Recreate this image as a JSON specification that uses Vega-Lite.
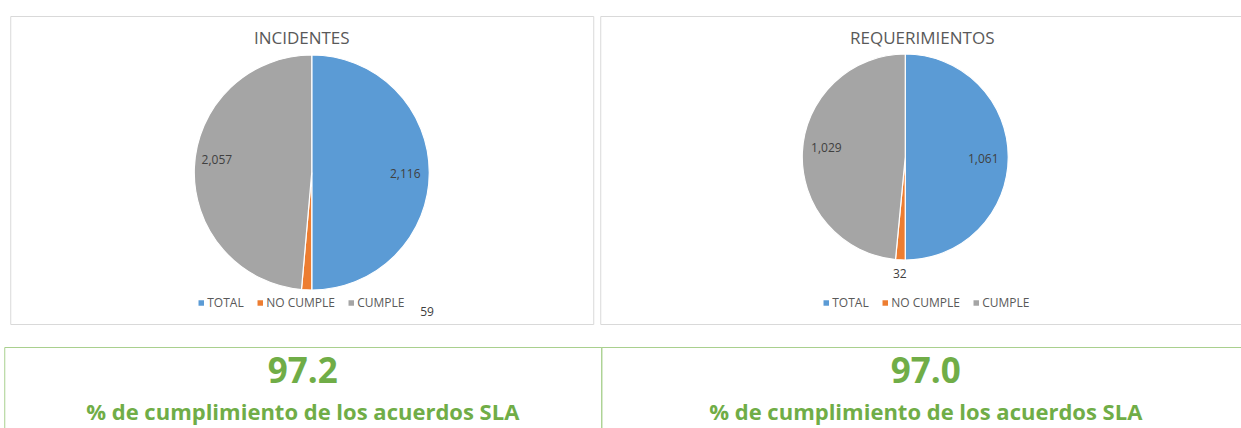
{
  "$schema": "https://vega.github.io/schema/vega-lite/v6.json",
  "padding": {"left": 3, "top": 15, "right": 0, "bottom": 0},
  "background": "white",
  "config": {
    "font": "Open Sans",
    "view": {"stroke": "#D9D9D9"},
    "title": {"font": "Open Sans", "fontSize": 17, "fontWeight": "normal", "color": "#595959", "offset": -32, "anchor": "middle"},
    "legend": {
      "orient": "none", "direction": "horizontal", "columns": 3, "title": null,
      "symbolType": "square", "symbolSize": 30, "symbolStrokeWidth": 0,
      "labelFont": "Open Sans", "labelFontSize": 12, "labelColor": "#595959",
      "columnPadding": 10, "labelOffset": 0, "padding": 0
    }
  },
  "datasets": {
    "incidentes": [
      {"categoria": "TOTAL", "valor": 2116, "orden": 1},
      {"categoria": "NO CUMPLE", "valor": 59, "orden": 2},
      {"categoria": "CUMPLE", "valor": 2057, "orden": 3}
    ],
    "requerimientos": [
      {"categoria": "TOTAL", "valor": 1061, "orden": 1},
      {"categoria": "NO CUMPLE", "valor": 32, "orden": 2},
      {"categoria": "CUMPLE", "valor": 1029, "orden": 3}
    ],
    "sla": [
      {"panel": "INCIDENTES", "linea": "valor", "texto": "97.2"},
      {"panel": "INCIDENTES", "linea": "etiqueta", "texto": "% de cumplimiento de los acuerdos SLA"},
      {"panel": "REQUERIMIENTOS", "linea": "valor", "texto": "97.0"},
      {"panel": "REQUERIMIENTOS", "linea": "etiqueta", "texto": "% de cumplimiento de los acuerdos SLA"}
    ]
  },
  "center": true,
  "spacing": 21,
  "resolve": {"scale": {"color": "independent", "theta": "independent"}, "legend": {"color": "independent"}},
  "vconcat": [
    {
      "spacing": 7,
      "bounds": "flush",
      "resolve": {"scale": {"color": "independent", "theta": "independent"}, "legend": {"color": "independent"}},
      "hconcat": [
        {
          "width": 583, "height": 308,
          "view": {"stroke": "#D9D9D9", "fill": "white"},
          "title": {"text": "INCIDENTES"},
          "data": {"name": "incidentes"},
          "encoding": {
            "theta": {"field": "valor", "type": "quantitative", "stack": true},
            "order": {"field": "orden", "type": "quantitative"},
            "color": {
              "field": "categoria", "type": "nominal",
              "scale": {"domain": ["TOTAL", "NO CUMPLE", "CUMPLE"], "range": ["#5B9BD5", "#ED7D31", "#A5A5A5"]},
              "legend": {"legendX": 185, "legendY": 281}
            }
          },
          "layer": [
            {"mark": {"type": "arc", "outerRadius": 117.5, "stroke": "white", "strokeWidth": 1.2, "xOffset": 10, "yOffset": 2.5}},
            {
              "mark": {"type": "text", "radius": 96, "dx": 7.5, "dy": 3.5, "fontSize": 12, "font": "Open Sans", "color": "#404040"},
              "encoding": {"color": {"value": "#404040"}, "detail": {"field": "categoria"},
                "text": {"condition": {"test": "datum.categoria === 'TOTAL'", "field": "valor", "type": "quantitative", "format": ","}, "value": ""}}
            },
            {
              "mark": {"type": "text", "radius": 95, "dx": 10, "dy": -5.5, "fontSize": 12, "font": "Open Sans", "color": "#404040"},
              "encoding": {"color": {"value": "#404040"}, "detail": {"field": "categoria"},
                "text": {"condition": {"test": "datum.categoria === 'CUMPLE'", "field": "valor", "type": "quantitative", "format": ","}, "value": ""}}
            },
            {
              "mark": {"type": "text", "radius": 130, "dx": 131, "dy": 12.5, "fontSize": 12, "font": "Open Sans", "color": "#404040"},
              "encoding": {"color": {"value": "#404040"}, "detail": {"field": "categoria"},
                "text": {"condition": {"test": "datum.categoria === 'NO CUMPLE'", "field": "valor", "type": "quantitative", "format": ","}, "value": ""}}
            }
          ]
        },
        {
          "width": 644, "height": 308,
          "view": {"stroke": "#D9D9D9", "fill": "white"},
          "title": {"text": "REQUERIMIENTOS"},
          "data": {"name": "requerimientos"},
          "encoding": {
            "theta": {"field": "valor", "type": "quantitative", "stack": true},
            "order": {"field": "orden", "type": "quantitative"},
            "color": {
              "field": "categoria", "type": "nominal",
              "scale": {"domain": ["TOTAL", "NO CUMPLE", "CUMPLE"], "range": ["#5B9BD5", "#ED7D31", "#A5A5A5"]},
              "legend": {"legendX": 220, "legendY": 281}
            }
          },
          "layer": [
            {"mark": {"type": "arc", "outerRadius": 103, "stroke": "white", "strokeWidth": 1.2, "xOffset": -17, "yOffset": -13}},
            {
              "mark": {"type": "text", "radius": 82, "dx": -21, "dy": -11, "fontSize": 12, "font": "Open Sans", "color": "#404040"},
              "encoding": {"color": {"value": "#404040"}, "detail": {"field": "categoria"},
                "text": {"condition": {"test": "datum.categoria === 'TOTAL'", "field": "valor", "type": "quantitative", "format": ","}, "value": ""}}
            },
            {
              "mark": {"type": "text", "radius": 79, "dx": -17, "dy": -18, "fontSize": 12, "font": "Open Sans", "color": "#404040"},
              "encoding": {"color": {"value": "#404040"}, "detail": {"field": "categoria"},
                "text": {"condition": {"test": "datum.categoria === 'CUMPLE'", "field": "valor", "type": "quantitative", "format": ","}, "value": ""}}
            },
            {
              "mark": {"type": "text", "radius": 115, "dx": -17, "dy": -11, "fontSize": 12, "font": "Open Sans", "color": "#404040"},
              "encoding": {"color": {"value": "#404040"}, "detail": {"field": "categoria"},
                "text": {"condition": {"test": "datum.categoria === 'NO CUMPLE'", "field": "valor", "type": "quantitative", "format": ","}, "value": ""}}
            }
          ]
        }
      ]
    },
    {
      "spacing": 0,
      "bounds": "flush",
      "hconcat": [
        {
          "width": 597, "height": 90,
          "view": {"stroke": "#A9D08E"},
          "data": {"name": "sla"},
          "transform": [{"filter": "datum.panel === 'INCIDENTES'"}],
          "encoding": {
            "y": {"field": "linea", "type": "nominal", "scale": {"type": "point", "domain": ["valor", "etiqueta"], "range": [36, 73], "padding": 0}, "axis": null},
            "text": {"field": "texto", "type": "nominal"}
          },
          "layer": [
            {"transform": [{"filter": "datum.linea === 'valor'"}], "mark": {"type": "text", "font": "Open Sans", "fontSize": 35, "fontWeight": "bold", "color": "#70AD47", "baseline": "alphabetic"}},
            {"transform": [{"filter": "datum.linea === 'etiqueta'"}], "mark": {"type": "text", "font": "Open Sans", "fontSize": 22, "fontWeight": "bold", "color": "#70AD47", "baseline": "alphabetic"}}
          ]
        },
        {
          "width": 649, "height": 90,
          "view": {"stroke": "#A9D08E"},
          "data": {"name": "sla"},
          "transform": [{"filter": "datum.panel === 'REQUERIMIENTOS'"}],
          "encoding": {
            "y": {"field": "linea", "type": "nominal", "scale": {"type": "point", "domain": ["valor", "etiqueta"], "range": [36, 73], "padding": 0}, "axis": null},
            "text": {"field": "texto", "type": "nominal"}
          },
          "layer": [
            {"transform": [{"filter": "datum.linea === 'valor'"}], "mark": {"type": "text", "font": "Open Sans", "fontSize": 35, "fontWeight": "bold", "color": "#70AD47", "baseline": "alphabetic"}},
            {"transform": [{"filter": "datum.linea === 'etiqueta'"}], "mark": {"type": "text", "font": "Open Sans", "fontSize": 22, "fontWeight": "bold", "color": "#70AD47", "baseline": "alphabetic"}}
          ]
        }
      ]
    }
  ]
}
